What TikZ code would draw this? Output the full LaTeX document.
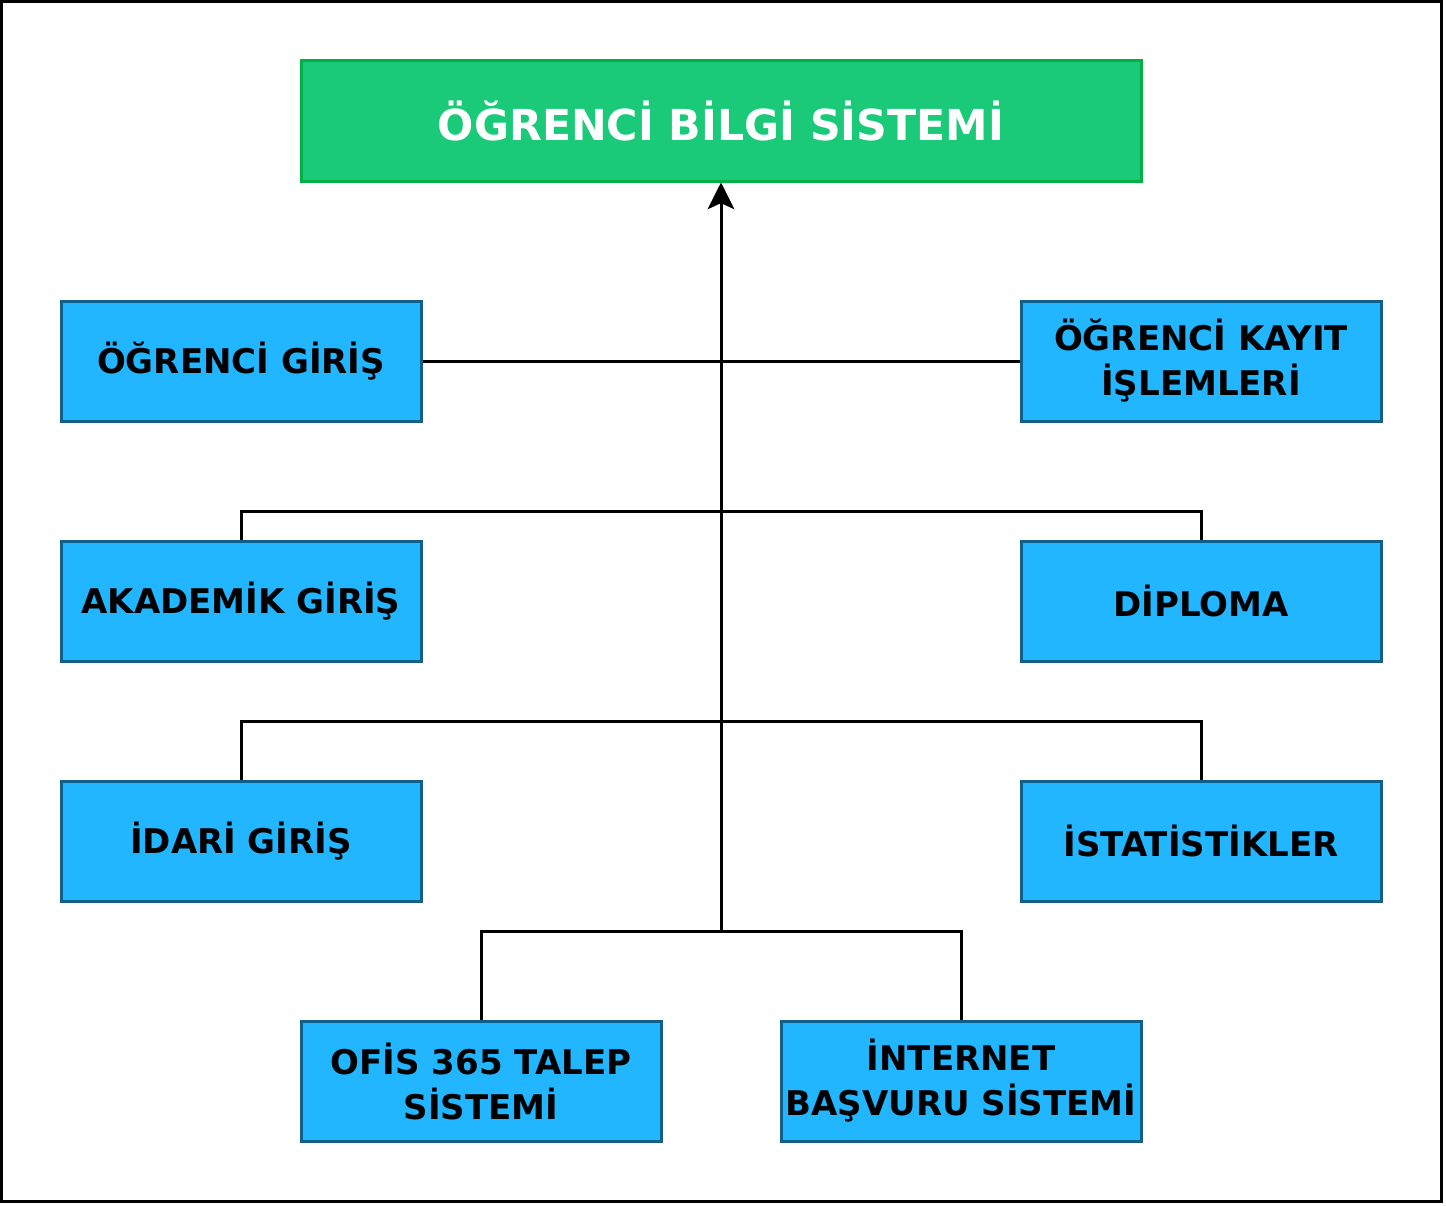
\documentclass[tikz,border=0pt]{standalone}
\usepackage{fontspec}
\setmainfont{DejaVu Sans}
\definecolor{titlegreen}{RGB}{27, 202, 120}
\definecolor{titleedge}{RGB}{0, 176, 66}
\definecolor{modblue}{RGB}{33, 182, 255}
\definecolor{modedge}{RGB}{18, 96, 136}
\usepackage{tikz}
\usetikzlibrary{arrows.meta, positioning}

\begin{document}
\begin{tikzpicture}[x=0.75pt, y=-0.75pt,
    titlebox/.style={draw=titleedge, fill=titlegreen, line width=2.25pt, text=white,
      minimum width=630pt, minimum height=90pt, align=center,
      font=\fontsize{32}{38}\selectfont\bfseries},
    modbox/.style={draw=modedge, fill=modblue, line width=2.25pt, text=black,
      minimum width=270pt, minimum height=90pt, align=center, inner sep=2pt,
      font=\fontsize{25.5}{33.75}\selectfont\bfseries},
    link/.style={line width=2.25pt, black}]
  \useasboundingbox (0,0) rectangle (1446,1206);
  % Frame
  \draw[line width=2.25pt] (1.5,1.5) rectangle (1441.5,1201.5);

  % Main system
  \node[titlebox] (sys) at (721,121) {ÖĞRENCİ BİLGİ SİSTEMİ};

  % Left column
  \node[modbox] (ogrgiris) at (241,361) {ÖĞRENCİ GİRİŞ};
  \node[modbox] (akagiris) at (241,601) {AKADEMİK GİRİŞ};
  \node[modbox] (idgiris) at (241,841) {İDARİ GİRİŞ};

  % Right column
  \node[modbox] (kayit) at (1201,361) {ÖĞRENCİ KAYIT\\İŞLEMLERİ};
  \node[modbox] (diploma) at (1201,601) {DİPLOMA};
  \node[modbox] (istat) at (1201,841) {İSTATİSTİKLER};

  % Bottom row
  \node[modbox] (ofis) at (481,1081) {OFİS 365 TALEP\\SİSTEMİ};
  \node[modbox] (basvuru) at (961,1081) {İNTERNET\\BAŞVURU SİSTEMİ};

  % Junctions
  \coordinate (j1) at (721,511);
  \coordinate (j2) at (721,721);
  \coordinate (j3) at (721,931);

  % Connectors
  \draw[link] (ogrgiris.east) -- (kayit.west);
  \draw[link] (akagiris.north) |- (j1) -| (diploma.north);
  \draw[link] (idgiris.north) |- (j2) -| (istat.north);
  \draw[link] (ofis.north) |- (j3) -| (basvuru.north);
  \draw[link, -{Stealth[length=20pt, width=20pt, inset=4.5pt]}] (j3) -- (sys.south);
\end{tikzpicture}
\end{document}
